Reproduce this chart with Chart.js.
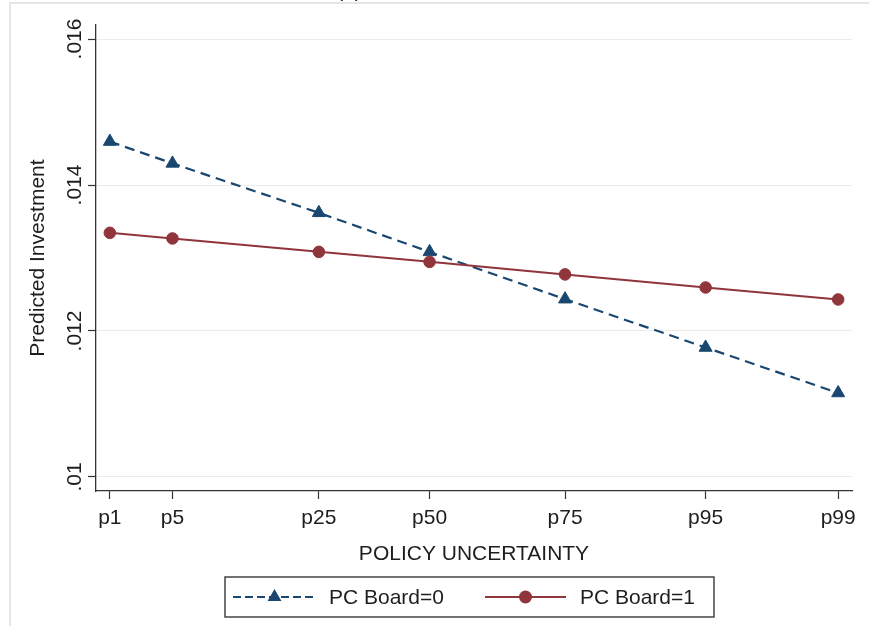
<!DOCTYPE html>
<html>
<head>
<meta charset="utf-8">
<title>Predicted Investment by Policy Uncertainty</title>
<script src="https://cdn.jsdelivr.net/npm/chart.js@4.4.1/dist/chart.umd.min.js"></script>
<style>
  html, body { margin: 0; padding: 0; background: #fff; }
  #wrap { width: 869px; height: 626px; }
</style>
</head>
<body>
<div id="wrap"><canvas id="investChart" width="869" height="626"></canvas></div>
<script>
// Data
const percentileLabels = ['p1', 'p5', 'p25', 'p50', 'p75', 'p95', 'p99'];
// where each percentile sits on the uncertainty axis (p1 = 0, p99 = 100)
const uncertaintyLevels = [0, 8.6, 28.7, 43.9, 62.5, 81.8, 100];
const pcBoard0 = [0.014595, 0.014296, 0.013619, 0.013084, 0.012436, 0.011774, 0.011151];
const pcBoard1 = [0.013345, 0.013268, 0.013084, 0.012947, 0.012775, 0.012596, 0.012432];
const yTickValues = [0.010, 0.012, 0.014, 0.016];
const seriesNames = ['PC Board=0', 'PC Board=1'];

const NAVY = '#1a476f';
const MAROON = '#90353b';
const AXIS = '#333333';
const TEXT = '#1e1e1e';
const FONT = { family: "'Liberation Sans', Arial, sans-serif", size: 21 };

function toPoints(values) {
  return uncertaintyLevels.map((x, i) => ({ x: x, y: values[i] }));
}

// light frame of the graph region plus the clipped panel label
const frame = {
  id: 'frame',
  beforeDraw(chart) {
    const ctx = chart.ctx;
    ctx.save();
    ctx.strokeStyle = '#e2e6e9';
    ctx.lineWidth = 2;
    ctx.beginPath();
    ctx.moveTo(10, 626);
    ctx.lineTo(10, 3);
    ctx.lineTo(869, 3);
    ctx.stroke();
    ctx.fillStyle = TEXT;
    ctx.font = '21px ' + FONT.family;
    ctx.textAlign = 'center';
    ctx.textBaseline = 'alphabetic';
    ctx.fillText('(a)', 349, -3);
    ctx.restore();
  }
};

function drawMarker(ctx, style, x, y, r, color) {
  ctx.fillStyle = color;
  ctx.beginPath();
  if (style === 'triangle') {
    ctx.moveTo(x, y - r);
    ctx.lineTo(x + r * 0.866, y + r * 0.5);
    ctx.lineTo(x - r * 0.866, y + r * 0.5);
    ctx.closePath();
  } else {
    ctx.arc(x, y, r, 0, Math.PI * 2);
  }
  ctx.fill();
}

// Stata-style boxed legend below the axis title
const boxedLegend = {
  id: 'boxedLegend',
  afterDraw(chart) {
    const ctx = chart.ctx;
    const ds = chart.data.datasets;
    const top = 577, bottom = 617, left = 225, right = 714;
    const midY = (top + bottom) / 2;
    ctx.save();
    ctx.strokeStyle = '#444';
    ctx.lineWidth = 1.5;
    ctx.strokeRect(left, top, right - left, bottom - top);

    const keys = [
      { x0: 233, x1: 316, textX: 329, dash: [8, 4], r: 8 },
      { x0: 485, x1: 566, textX: 580, dash: [], r: 6.5 }
    ];
    keys.forEach((k, i) => {
      const d = ds[i];
      ctx.strokeStyle = d.borderColor;
      ctx.lineWidth = 2;
      ctx.setLineDash(k.dash);
      ctx.beginPath();
      ctx.moveTo(k.x0, midY);
      ctx.lineTo(k.x1, midY);
      ctx.stroke();
      ctx.setLineDash([]);
      drawMarker(ctx, d.pointStyle, (k.x0 + k.x1) / 2, midY, k.r, d.borderColor);
      ctx.fillStyle = TEXT;
      ctx.font = '21px ' + FONT.family;
      ctx.textAlign = 'left';
      ctx.textBaseline = 'middle';
      ctx.fillText(d.label, k.textX, midY + 1);
    });
    ctx.restore();
  }
};

new Chart(document.getElementById('investChart'), {
  type: 'line',
  data: {
    datasets: [
      {
        label: seriesNames[0],
        data: toPoints(pcBoard0),
        borderColor: NAVY,
        backgroundColor: NAVY,
        borderWidth: 2.2,
        borderDash: [10, 6],
        pointStyle: 'triangle',
        pointRadius: 7.5,
        pointBorderWidth: 1,
        pointBackgroundColor: NAVY,
        pointBorderColor: NAVY,
        tension: 0,
        order: 1
      },
      {
        label: seriesNames[1],
        data: toPoints(pcBoard1),
        borderColor: MAROON,
        backgroundColor: MAROON,
        borderWidth: 2,
        pointStyle: 'circle',
        pointRadius: 5.8,
        pointBorderWidth: 1,
        pointBackgroundColor: MAROON,
        pointBorderColor: MAROON,
        tension: 0,
        order: 0
      }
    ]
  },
  options: {
    responsive: false,
    animation: false,
    devicePixelRatio: 1,
    layout: {
      padding: { left: 0, top: 25, right: 17, bottom: 59 }
    },
    scales: {
      x: {
        type: 'linear',
        min: -1.9,
        max: 101.9,
        afterBuildTicks: scale => {
          scale.ticks = uncertaintyLevels.map(v => ({ value: v }));
        },
        afterFit: scale => { scale.height = 76; },
        ticks: {
          autoSkip: false,
          maxRotation: 0,
          padding: 7,
          color: TEXT,
          font: FONT,
          callback: value => percentileLabels[uncertaintyLevels.indexOf(value)]
        },
        grid: {
          drawOnChartArea: false,
          tickLength: 8,
          tickColor: AXIS,
          tickWidth: 1.2
        },
        border: { color: AXIS, width: 1.3 },
        title: {
          display: true,
          text: 'POLICY UNCERTAINTY',
          color: TEXT,
          font: FONT,
          padding: { top: 0, bottom: 0 }
        }
      },
      y: {
        min: 0.009808,
        max: 0.016192,
        afterBuildTicks: scale => {
          scale.ticks = yTickValues.map(v => ({ value: v }));
        },
        afterFit: scale => { scale.width = 96; },
        ticks: {
          minRotation: 90,
          maxRotation: 90,
          crossAlign: 'center',
          padding: -8,
          color: TEXT,
          font: FONT,
          callback: value => String(value).replace(/^0\./, '.')
        },
        grid: {
          color: '#ebebeb',
          lineWidth: 1,
          tickLength: 8,
          tickColor: AXIS,
          tickWidth: 1.2
        },
        border: { color: AXIS, width: 1.3 },
        title: {
          display: true,
          text: 'Predicted Investment',
          color: TEXT,
          font: FONT,
          padding: { top: 26, bottom: 0 }
        }
      }
    },
    plugins: {
      legend: { display: false },
      tooltip: { enabled: false }
    }
  },
  plugins: [frame, boxedLegend]
});
</script>
</body>
</html>
